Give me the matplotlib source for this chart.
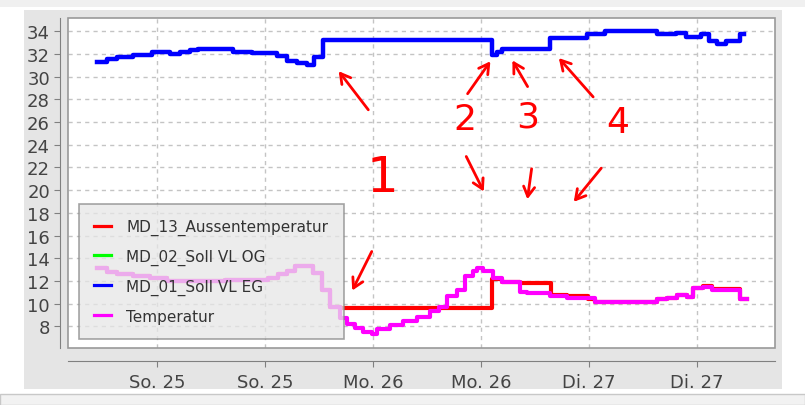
import numpy as np
import matplotlib
matplotlib.use("Agg")
import matplotlib.pyplot as plt
from matplotlib.patches import Rectangle

# ------------------------------------------------------------------
# Heizung: Vorlauf-Soll (EG/OG), Aussentemperatur und Temperatur
# x-Achse in Stunden ab So. 25 00:00

# MD_01_Soll VL EG (blau)
eg_h = [-6.7, -5.6, -4.5, -2.7, -0.6, 1.4, 2.6, 3.7, 4.6, 8.4, 10.6, 13.3,
        14.4, 15.6, 16.7, 17.4, 18.4, 37.2, 37.8, 38.4, 43.7, 47.8, 49.8, 55.6,
        57.7, 58.8, 60.5, 61.4, 62.3, 63.3, 64.8, 65.3]
eg_val = [31.3, 31.55, 31.75, 31.9, 32.2, 32.0, 32.2, 32.3, 32.45, 32.2, 32.05,
          31.8, 31.4, 31.2, 31.0, 31.75, 33.2, 31.9, 32.2, 32.45, 33.4, 33.7,
          34.0, 33.7, 33.85, 33.5, 33.7, 33.1, 32.9, 33.1, 33.7, 33.75]

# MD_02_Soll VL OG (gruen) - keine sichtbaren Werte
og_h = []
og_val = []

# MD_13_Aussentemperatur (rot)
aussen_h = [-6.7, -5.6, -4.4, -2.7, -0.8, 1.1, 7.5, 12.3, 13.4, 14.5, 15.3,
            17.3, 18.3, 19.2, 20.3, 37.2, 38.4, 40.3, 43.8, 45.6, 47.9, 48.7,
            55.6, 56.7, 57.8, 58.9, 59.6, 60.7, 61.7, 64.8, 65.6]
aussen_val = [13.1, 12.8, 12.6, 12.4, 12.25, 12.0, 12.1, 12.3, 12.6, 12.9, 13.3,
              12.7, 11.2, 9.7, 9.6, 12.15, 11.95, 11.85, 10.75, 10.65, 10.45,
              10.15, 10.45, 10.5, 10.75, 10.6, 11.4, 11.6, 11.25, 10.45, 10.45]

# Temperatur (magenta)
temp_h = [-6.7, -5.6, -4.4, -2.7, -0.8, 1.1, 7.5, 12.3, 13.4, 14.5, 15.3, 17.3,
          18.3, 19.2, 20.3, 21.1, 22.0, 22.9, 23.9, 24.4, 25.9, 27.3, 28.9,
          30.3, 31.4, 32.2, 33.3, 34.2, 35.1, 35.6, 36.2, 37.3, 38.4, 40.3,
          41.1, 42.2, 43.7, 45.6, 48.7, 55.6, 56.7, 57.8, 58.9, 59.6, 60.7,
          61.7, 64.8, 65.6]
temp_val = [13.1, 12.8, 12.6, 12.4, 12.25, 12.0, 12.1, 12.3, 12.6, 12.9, 13.3,
            12.7, 11.2, 9.7, 8.7, 8.25, 7.9, 7.5, 7.3, 7.75, 8.15, 8.5, 8.85,
            9.35, 9.7, 10.65, 11.2, 12.4, 12.85, 13.1, 12.85, 12.25, 11.95,
            11.05, 10.9, 10.95, 10.65, 10.5, 10.15, 10.45, 10.5, 10.75, 10.55,
            11.35, 11.5, 11.2, 10.45, 10.45]

tick_h = [0, 12, 24, 36, 48, 60]
tick_labels = ["So. 25", "So. 25", "Mo. 26", "Mo. 26", "Di. 27", "Di. 27"]
y_ticks = list(range(8, 35, 2))

W, H = 805, 406
fig = plt.figure(figsize=(W / 100, H / 100), dpi=100)
fig.patch.set_facecolor("white")

# Fensterrahmen / Panel wie im Screenshot
fig.patches.append(Rectangle((0, (H - 8) / H), 1, 8 / H, transform=fig.transFigure,
                             facecolor="#f0f0f0", edgecolor="none", zorder=-3))
fig.patches.append(Rectangle((0, 0), 1, 11 / H, transform=fig.transFigure,
                             facecolor="#f2f2f2", edgecolor="#c8c8c8", lw=1, zorder=-3))
fig.patches.append(Rectangle((24 / W, (H - 390) / H), 758 / W, 379 / H,
                             transform=fig.transFigure, facecolor="#e5e5e5",
                             edgecolor="none", zorder=-2))

ax = fig.add_axes([68 / W, (H - 349) / H, 707 / W, 330 / H])
ax.set_facecolor("white")

ax.plot(aussen_h, aussen_val, color="#ff0000", lw=3.0, drawstyle="steps-post",
        label="MD_13_Aussentemperatur", zorder=3)
ax.plot(og_h, og_val, color="#00ff00", lw=2.3, drawstyle="steps-post",
        label="MD_02_Soll VL OG", zorder=3)
ax.plot(eg_h, eg_val, color="#0000ff", lw=3.2, drawstyle="steps-post",
        label="MD_01_Soll VL EG", zorder=4)
ax.plot(temp_h, temp_val, color="#ff00ff", lw=3.0, drawstyle="steps-post",
        label="Temperatur", zorder=3)

ax.set_xlim(-9.9, 68.7)
ax.set_ylim(6.1, 35.15)
ax.set_xticks(tick_h)
ax.set_xticklabels(tick_labels)
ax.set_yticks(y_ticks)
ax.grid(True, color="#c4c4c4", linestyle=(0, (3, 3)), lw=1)
ax.set_axisbelow(True)

# Plotrahmen grau, Achsenlinien leicht abgesetzt (JFreeChart-Stil)
ax.add_patch(Rectangle((0, 0), 1, 1, transform=ax.transAxes, fill=False,
                       edgecolor="#999999", lw=1.2, zorder=6, clip_on=False))
for s in ["top", "right"]:
    ax.spines[s].set_visible(False)
ax.spines["left"].set_position(("outward", 6))
ax.spines["bottom"].set_position(("outward", 9))
ax.spines["left"].set_color("#808080")
ax.spines["bottom"].set_color("#808080")
ax.tick_params(axis="both", colors="#808080", labelcolor="#444444",
               labelsize=13, length=4, direction="out")
ax.tick_params(axis="x", pad=5)
ax.tick_params(axis="y", pad=3)

leg = ax.legend(loc="lower left", bbox_to_anchor=(79 / W, (H - 340) / H),
                bbox_transform=fig.transFigure, borderaxespad=0, fontsize=11,
                frameon=True, fancybox=False, framealpha=0.75,
                facecolor="#e6e6e6", edgecolor="#888888", handlelength=1.1,
                handletextpad=1.0, labelspacing=0.9, borderpad=1.0)
leg.get_frame().set_linewidth(1.2)
for t in leg.get_texts():
    t.set_color("#333333")
for ln in leg.get_lines():
    ln.set_linewidth(2.3)

# Handschriftliche Markierungen (rot) in Bildpixeln
def fp(x, y):
    return (x, H - y)

arrows = [((370, 113), (337, 70)), ((373, 250), (351, 294)),
          ((466, 97), (492, 60)), ((529, 90), (511, 59)), ((595, 100), (557, 57)),
          ((465, 155), (485, 195)), ((532, 167), (527, 203)), ((603, 167), (572, 205))]
for tail, tip in arrows:
    ax.annotate("", xy=fp(*tip), xytext=fp(*tail), xycoords="figure pixels",
                textcoords="figure pixels", zorder=7,
                arrowprops=dict(arrowstyle="->,head_length=0.7,head_width=0.4",
                                color="red", lw=2))

marks = [("1", 382, 178, 36), ("2", 465, 120, 26), ("3", 528, 118, 26), ("4", 618, 123, 26)]
for txt, x, y, fs in marks:
    ax.annotate(txt, xy=fp(x, y), xycoords="figure pixels", ha="center",
                va="center", color="red", fontsize=fs, zorder=7)

fig.savefig("out.png", dpi=100)
